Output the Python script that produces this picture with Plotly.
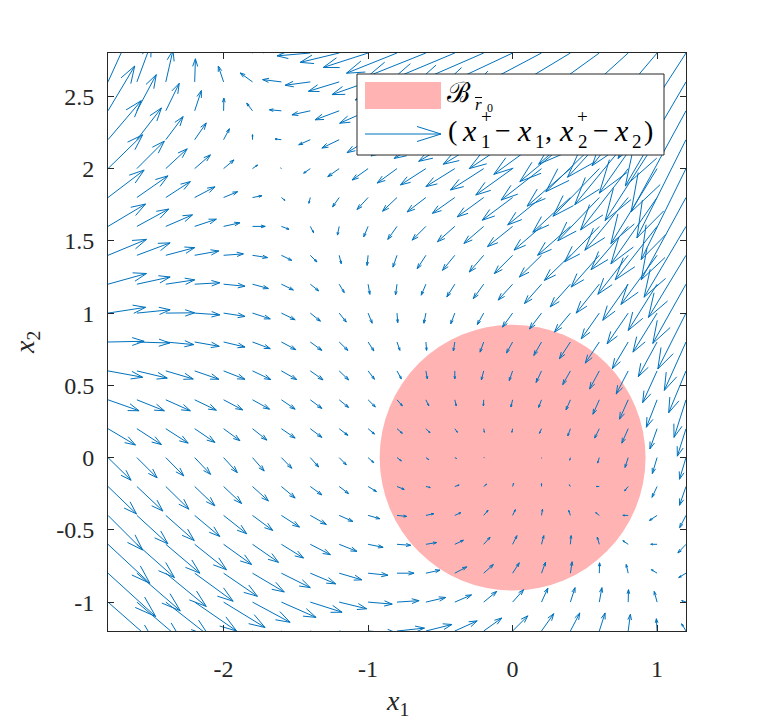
import plotly.graph_objects as go

# grid of the quiver (x1 columns, x2 rows)
X_GRID = [-2.8, -2.6, -2.4, -2.2, -2.0, -1.8, -1.6, -1.4, -1.2, -1.0, -0.8,
          -0.6, -0.4, -0.2, 0.0, 0.2, 0.4, 0.6, 0.8, 1.0, 1.2]
Y_GRID = [-1.2, -1.0, -0.8, -0.6, -0.4, -0.2, 0.0, 0.2, 0.4, 0.6, 0.8,
          1.0, 1.2, 1.4, 1.6, 1.8, 2.0, 2.2, 2.4, 2.6, 2.8]

# drawn arrow components (x1+ - x1), one row per x2 value, bottom to top
U = [
    [0.35, 0.33, 0.32, 0.31, 0.30, 0.28, 0.26, 0.24, 0.22, 0.20, 0.19, 0.18, 0.155, 0.125, 0.105, 0.085, 0.065, 0.04, 0.015, -0.005, -0.03],
    [0.33, 0.31, 0.30, 0.29, 0.287, 0.26, 0.24, 0.22, 0.19, 0.167, 0.153, 0.137, 0.116, 0.09, 0.076, 0.044, 0.032, 0.018, 0.002, -0.02, -0.03],
    [0.33, 0.30, 0.28, 0.266, 0.234, 0.22, 0.20, 0.176, 0.157, 0.137, 0.118, 0.097, 0.083, 0.067, 0.046, 0.028, 0.012, 0.002, -0.014, -0.04, -0.05],
    [0.29, 0.26, 0.236, 0.22, 0.194, 0.18, 0.153, 0.139, 0.123, 0.104, 0.095, 0.074, 0.06, 0.044, 0.03, 0.016, 0.005, -0.014, -0.037, -0.044, -0.056],
    [0.24, 0.215, 0.197, 0.174, 0.16, 0.14, 0.125, 0.111, 0.095, 0.081, 0.067, 0.055, 0.042, 0.03, 0.019, 0.007, -0.012, -0.025, -0.037, -0.053, -0.044],
    [0.197, 0.18, 0.16, 0.14, 0.125, 0.11, 0.095, 0.08, 0.065, 0.058, 0.05, 0.03, 0.03, 0.02, 0.007, 0.0, -0.008, -0.022, -0.025, -0.035, -0.045],
    [0.16, 0.14, 0.125, 0.11, 0.095, 0.081, 0.072, 0.058, 0.049, 0.039, 0.03, 0.02, 0.012, 0.004, 0.0, 0.001, -0.005, -0.012, -0.022, -0.033, -0.045],
    [0.19, 0.17, 0.155, 0.14, 0.113, 0.10, 0.095, 0.08, 0.06, 0.044, 0.037, 0.028, 0.018, 0.005, -0.005, -0.014, -0.018, -0.032, -0.044, -0.05, -0.06],
    [0.215, 0.19, 0.17, 0.15, 0.132, 0.118, 0.095, 0.08, 0.065, 0.05, 0.037, 0.02, 0.01, -0.002, -0.012, -0.02, -0.03, -0.044, -0.06, -0.074, -0.083],
    [0.24, 0.21, 0.19, 0.167, 0.148, 0.127, 0.106, 0.088, 0.065, 0.044, 0.03, 0.01, 0.0, -0.016, -0.023, -0.037, -0.053, -0.067, -0.083, -0.10, -0.12],
    [0.25, 0.227, 0.194, 0.17, 0.148, 0.123, 0.10, 0.08, 0.06, 0.04, 0.02, 0.005, -0.01, -0.025, -0.042, -0.053, -0.076, -0.097, -0.11, -0.13, -0.15],
    [0.26, 0.23, 0.20, 0.174, 0.148, 0.123, 0.095, 0.07, 0.049, 0.028, 0.005, -0.014, -0.028, -0.044, -0.07, -0.083, -0.11, -0.125, -0.146, -0.167, -0.195],
    [0.266, 0.23, 0.20, 0.174, 0.148, 0.11, 0.083, 0.058, 0.035, 0.012, -0.01, -0.032, -0.055, -0.072, -0.10, -0.118, -0.14, -0.16, -0.176, -0.20, -0.23],
    [0.266, 0.23, 0.20, 0.167, 0.137, 0.104, 0.072, 0.046, 0.014, -0.007, -0.028, -0.06, -0.085, -0.10, -0.127, -0.153, -0.18, -0.195, -0.21, -0.25, -0.26],
    [0.26, 0.22, 0.185, 0.15, 0.113, 0.088, 0.053, 0.023, -0.012, -0.03, -0.064, -0.095, -0.12, -0.137, -0.174, -0.19, -0.227, -0.24, -0.257, -0.29, -0.29],
    [0.25, 0.215, 0.17, 0.14, 0.097, 0.065, 0.025, -0.01, -0.046, -0.076, -0.10, -0.13, -0.155, -0.183, -0.21, -0.234, -0.26, -0.287, -0.30, -0.32, -0.31],
    [0.24, 0.19, 0.148, 0.109, 0.072, 0.035, -0.005, -0.046, -0.079, -0.11, -0.137, -0.176, -0.20, -0.23, -0.255, -0.28, -0.30, -0.32, -0.33, -0.32, -0.31],
    [0.23, 0.17, 0.12, 0.08, 0.04, 0.0, -0.044, -0.08, -0.12, -0.146, -0.18, -0.22, -0.25, -0.28, -0.30, -0.33, -0.35, -0.37, -0.37, -0.36, -0.34],
    [0.185, 0.134, 0.093, 0.046, 0.002, -0.04, -0.083, -0.127, -0.167, -0.197, -0.23, -0.28, -0.31, -0.34, -0.37, -0.39, -0.41, -0.42, -0.42, -0.40, -0.38],
    [0.15, 0.10, 0.05, 0.005, -0.037, -0.085, -0.13, -0.174, -0.213, -0.25, -0.29, -0.34, -0.37, -0.40, -0.43, -0.45, -0.47, -0.48, -0.47, -0.45, -0.42],
    [0.10, 0.05, 0.0, -0.04, -0.08, -0.13, -0.18, -0.23, -0.27, -0.31, -0.35, -0.40, -0.43, -0.46, -0.49, -0.51, -0.53, -0.54, -0.53, -0.50, -0.47],
]

# drawn arrow components (x2+ - x2)
V = [
    [-0.30, -0.28, -0.25, -0.22, -0.19, -0.15, -0.12, -0.085, -0.05, -0.015, 0.02, 0.045, 0.07, 0.09, 0.105, 0.12, 0.125, 0.125, 0.115, 0.085, 0.05],
    [-0.29, -0.265, -0.235, -0.20, -0.176, -0.14, -0.106, -0.07, -0.046, -0.014, 0.01, 0.032, 0.05, 0.074, 0.086, 0.097, 0.10, 0.10, 0.086, 0.074, 0.01],
    [-0.30, -0.26, -0.23, -0.194, -0.16, -0.13, -0.10, -0.074, -0.046, -0.014, 0.0, 0.021, 0.044, 0.06, 0.072, 0.076, 0.079, 0.072, 0.06, 0.025, -0.03],
    [-0.27, -0.23, -0.20, -0.176, -0.14, -0.125, -0.095, -0.072, -0.049, -0.021, -0.007, 0.012, 0.028, 0.049, 0.06, 0.06, 0.06, 0.049, 0.025, 0.0, -0.06],
    [-0.24, -0.197, -0.174, -0.146, -0.127, -0.104, -0.081, -0.0625, -0.042, -0.023, -0.007, 0.012, 0.019, 0.035, 0.04, 0.042, 0.035, 0.019, 0.0, -0.035, -0.085],
    [-0.19, -0.17, -0.157, -0.134, -0.118, -0.10, -0.08, -0.058, -0.049, -0.035, -0.02, -0.007, 0.01, 0.016, 0.023, 0.02, 0.012, 0.0, -0.03, -0.075, -0.13],
    [-0.157, -0.14, -0.127, -0.116, -0.104, -0.093, -0.074, -0.065, -0.05, -0.035, -0.023, -0.014, -0.006, 0.0, 0.0, -0.004, -0.018, -0.038, -0.068, -0.11, -0.15],
    [-0.113, -0.11, -0.10, -0.095, -0.083, -0.079, -0.065, -0.06, -0.046, -0.037, -0.032, -0.028, -0.025, -0.025, -0.025, -0.032, -0.05, -0.065, -0.10, -0.14, -0.19],
    [-0.076, -0.076, -0.076, -0.072, -0.07, -0.065, -0.065, -0.06, -0.053, -0.049, -0.042, -0.042, -0.042, -0.042, -0.05, -0.053, -0.07, -0.10, -0.134, -0.19, -0.26],
    [-0.044, -0.05, -0.056, -0.058, -0.058, -0.06, -0.06, -0.062, -0.062, -0.058, -0.055, -0.055, -0.055, -0.062, -0.067, -0.08, -0.095, -0.125, -0.16, -0.22, -0.29],
    [0.005, -0.007, -0.018, -0.03, -0.035, -0.046, -0.053, -0.058, -0.058, -0.062, -0.058, -0.058, -0.062, -0.07, -0.076, -0.093, -0.116, -0.146, -0.185, -0.24, -0.335],
    [0.04, 0.023, 0.002, -0.012, -0.023, -0.04, -0.046, -0.056, -0.062, -0.07, -0.066, -0.07, -0.074, -0.079, -0.097, -0.11, -0.132, -0.178, -0.213, -0.27, -0.387],
    [0.074, 0.05, 0.03, 0.01, -0.014, -0.03, -0.04, -0.046, -0.058, -0.07, -0.073, -0.076, -0.088, -0.10, -0.11, -0.134, -0.157, -0.20, -0.25, -0.32, -0.41],
    [0.11, 0.086, 0.053, 0.03, 0.01, -0.016, -0.035, -0.046, -0.058, -0.07, -0.082, -0.093, -0.104, -0.116, -0.127, -0.15, -0.174, -0.22, -0.27, -0.34, -0.43],
    [0.155, 0.12, 0.08, 0.05, 0.025, 0.0, -0.02, -0.044, -0.06, -0.072, -0.09, -0.095, -0.106, -0.118, -0.14, -0.164, -0.20, -0.245, -0.30, -0.37, -0.49],
    [0.19, 0.15, 0.11, 0.074, 0.04, 0.012, -0.02, -0.04, -0.065, -0.083, -0.095, -0.10, -0.11, -0.134, -0.157, -0.19, -0.24, -0.30, -0.365, -0.46, -0.57],
    [0.234, 0.19, 0.137, 0.095, 0.06, 0.025, 0.005, -0.032, -0.056, -0.079, -0.10, -0.113, -0.125, -0.148, -0.183, -0.218, -0.26, -0.33, -0.425, -0.52, -0.63],
    [0.27, 0.22, 0.16, 0.116, 0.076, 0.035, 0.005, -0.035, -0.058, -0.09, -0.113, -0.13, -0.15, -0.17, -0.20, -0.24, -0.29, -0.36, -0.45, -0.56, -0.68],
    [0.31, 0.25, 0.19, 0.14, 0.088, 0.053, 0.007, -0.028, -0.0625, -0.086, -0.12, -0.14, -0.16, -0.18, -0.21, -0.25, -0.30, -0.37, -0.46, -0.57, -0.70],
    [0.33, 0.27, 0.22, 0.16, 0.11, 0.062, 0.016, -0.023, -0.065, -0.088, -0.125, -0.15, -0.17, -0.19, -0.22, -0.26, -0.31, -0.38, -0.47, -0.58, -0.72],
    [0.35, 0.30, 0.25, 0.20, 0.14, 0.08, 0.03, -0.02, -0.065, -0.10, -0.14, -0.16, -0.18, -0.20, -0.23, -0.27, -0.32, -0.39, -0.48, -0.59, -0.73],
]

BALL_CENTER = (0.0, 0.0)
BALL_RADIUS = 0.92

X_TICKS = [-2, -1, 0, 1]
X_TICK_TEXT = ["-2", "-1", "0", "1"]
Y_TICKS = [-1, -0.5, 0, 0.5, 1, 1.5, 2, 2.5]
Y_TICK_TEXT = ["-1", "-0.5", "0", "0.5", "1", "1.5", "2", "2.5"]

BLUE = "#0072BD"
PINK = "#FFB3B3"
AXIS = "#262626"
SERIF = "Times New Roman, Liberation Serif, DejaVu Serif, serif"

# matlab-style arrow heads
HEAD_A = 0.33
HEAD_B = 0.33

xs, ys = [], []
for j, y0 in enumerate(Y_GRID):
    for i, x0 in enumerate(X_GRID):
        u, v = U[j][i], V[j][i]
        xe, ye = x0 + u, y0 + v
        xs += [x0, xe, None]
        ys += [y0, ye, None]
        xs += [xe - HEAD_A * (u + HEAD_B * v), xe, xe - HEAD_A * (u - HEAD_B * v), None]
        ys += [ye - HEAD_A * (v - HEAD_B * u), ye, ye - HEAD_A * (v + HEAD_B * u), None]

fig = go.Figure()
fig.add_trace(go.Scatter(
    x=xs, y=ys, mode="lines",
    line=dict(color=BLUE, width=1),
    hoverinfo="skip", showlegend=False,
))

cx, cy = BALL_CENTER
fig.add_shape(type="circle", xref="x", yref="y",
              x0=cx - BALL_RADIUS, x1=cx + BALL_RADIUS,
              y0=cy - BALL_RADIUS, y1=cy + BALL_RADIUS,
              fillcolor=PINK, line=dict(width=0), layer="below")

# page has an 8px body margin; positions below are window pixels
PAGE = 8
L, T, W, H = 108, 53, 578, 578


def px(x):
    return (x - L) / W


def py(y):
    return (T + H - y) / H


# legend box drawn by hand
fig.add_shape(type="rect", xref="paper", yref="paper",
              x0=px(357), x1=px(664), y0=py(155), y1=py(74),
              fillcolor="white", line=dict(color=AXIS, width=1), layer="above")
fig.add_shape(type="rect", xref="paper", yref="paper",
              x0=px(365), x1=px(441), y0=py(109), y1=py(82),
              fillcolor=PINK, line=dict(width=0), layer="above")
for seg in [(365, 134, 441, 134), (417, 126.5, 441, 134), (417, 141.5, 441, 134)]:
    fig.add_shape(type="line", xref="paper", yref="paper",
                  x0=px(seg[0]), y0=py(seg[1]), x1=px(seg[2]), y1=py(seg[3]),
                  line=dict(color=BLUE, width=1), layer="above")


def glyph(text, x, y, size, italic=False):
    if italic:
        text = "<i>" + text + "</i>"
    fig.add_annotation(xref="paper", yref="paper", x=px(x), y=py(y),
                       xanchor="center", yanchor="middle", showarrow=False,
                       borderpad=0, text=text,
                       font=dict(family=SERIF, size=size, color="black"))


# B_{r0} label (bar over r drawn as a short line)
glyph("ℬ", 459, 92, 28)
glyph("r", 478, 104, 17, italic=True)
glyph("0", 489.5, 108, 12)
fig.add_shape(type="line", xref="paper", yref="paper",
              x0=px(475), x1=px(482), y0=py(97.5), y1=py(97.5),
              line=dict(color="black", width=1), layer="above")

# (x1+ - x1, x2+ - x2) label, scripts stacked like in LaTeX
MAIN_Y, SUP_Y, SUB_Y = 130, 116, 141
glyph("(", 452, MAIN_Y, 28)
glyph("x", 469, MAIN_Y, 30, italic=True)
glyph("+", 486, SUP_Y, 19)
glyph("1", 485.5, SUB_Y, 19)
glyph("−", 503, MAIN_Y, 28)
glyph("x", 524, MAIN_Y, 30, italic=True)
glyph("1", 539.5, SUB_Y, 19)
glyph(",", 548.5, MAIN_Y, 28)
glyph("x", 566.5, MAIN_Y, 30, italic=True)
glyph("+", 582.5, SUP_Y, 19)
glyph("2", 582.5, SUB_Y, 19)
glyph("−", 600.5, MAIN_Y, 28)
glyph("x", 621, MAIN_Y, 30, italic=True)
glyph("2", 637, SUB_Y, 19)
glyph(")", 648, MAIN_Y, 28)

# axis labels
fig.add_annotation(xref="paper", yref="paper", x=px(397), y=py(702),
                   xanchor="center", yanchor="middle", showarrow=False,
                   text="<i>x</i><sub>1</sub>",
                   font=dict(family=SERIF, size=28, color=AXIS))
fig.add_annotation(xref="paper", yref="paper", x=px(26), y=py(343),
                   xanchor="center", yanchor="middle", showarrow=False,
                   textangle=-90, text="<i>x</i><sub>2</sub>",
                   font=dict(family=SERIF, size=28, color=AXIS))

axis_common = dict(
    showline=True, mirror="ticks", linecolor=AXIS, linewidth=1,
    ticks="inside", ticklen=6, tickcolor=AXIS, tickwidth=1,
    showgrid=False, zeroline=False,
    tickfont=dict(family=SERIF, size=24, color=AXIS),
)
fig.update_layout(
    width=757 - PAGE, height=720 - PAGE,
    margin=dict(l=L - PAGE, r=757 - L - W, t=T - PAGE, b=720 - T - H),
    paper_bgcolor="white", plot_bgcolor="white",
    showlegend=False,
    xaxis=dict(range=[-2.8, 1.2], tickvals=X_TICKS, ticktext=X_TICK_TEXT,
               ticklabelstandoff=16, **axis_common),
    yaxis=dict(range=[-1.2, 2.8], tickvals=Y_TICKS, ticktext=Y_TICK_TEXT,
               ticklabelstandoff=8, **axis_common),
)

fig.write_html("out.html")
